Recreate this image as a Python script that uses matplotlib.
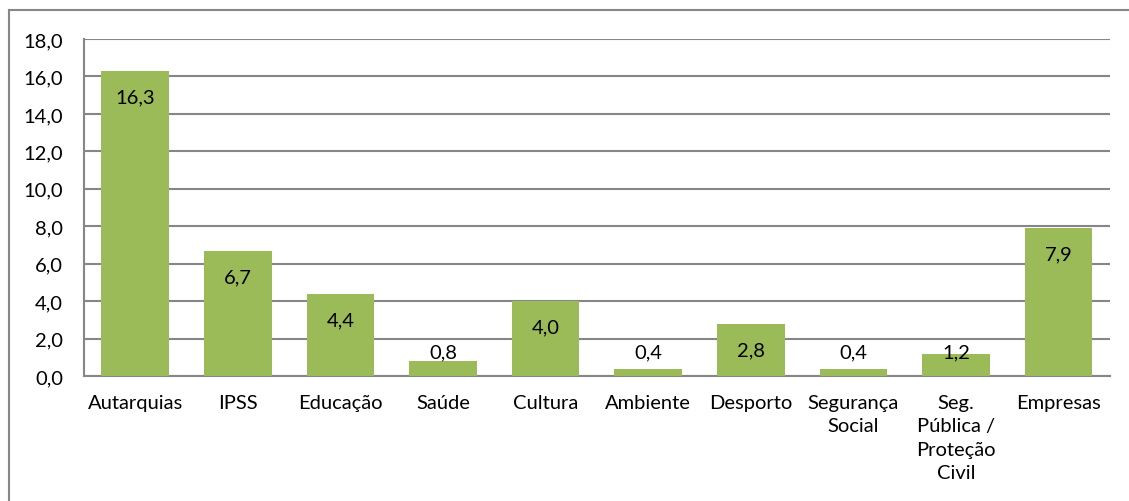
import matplotlib.pyplot as plt
from matplotlib.lines import Line2D

plt.rcParams['font.family'] = ['Lato', 'DejaVu Sans']

categorias = ['Autarquias', 'IPSS', 'Educação', 'Saúde', 'Cultura', 'Ambiente',
              'Desporto', 'Segurança\nSocial', 'Seg.\nPública /\nProteção\nCivil', 'Empresas']
valores = [16.3, 6.7, 4.4, 0.8, 4.0, 0.4, 2.8, 0.4, 1.2, 7.9]
yticks = [0, 2, 4, 6, 8, 10, 12, 14, 16, 18]

fig = plt.figure(figsize=(11.29, 5.02), dpi=100)
ax = fig.add_axes([0.0744, 0.249, 0.9086, 0.6713])

x = range(len(categorias))
ax.bar(x, valores, width=0.66, color='#9BBB59', zorder=3)

# rótulos de dados
for i, v in enumerate(valores):
    ax.text(i, max(v - 1.4, 1.3), f'{v:.1f}'.replace('.', ','), ha='center', va='center',
            fontsize=14.5, color='black', zorder=4)

ax.set_xlim(-0.5, len(categorias) - 0.5)
ax.set_ylim(0, 18)
ax.set_yticks(yticks)
ax.set_yticklabels([f'{t:.1f}'.replace('.', ',') for t in yticks], fontsize=14.5)
ax.set_xticks(list(x))
ax.set_xticklabels(categorias, fontsize=14.5, va='top', linespacing=1.45)
ax.tick_params(length=0)
ax.tick_params(axis='x', pad=13)
ax.tick_params(axis='y', pad=15)

ax.grid(axis='y', color='#868686', linewidth=1.5, zorder=0)
for s in ['top', 'right']:
    ax.spines[s].set_visible(False)
for s in ['left', 'bottom']:
    ax.spines[s].set_color('#868686')
    ax.spines[s].set_linewidth(1.5)

# moldura exterior
fig.add_artist(Line2D([9 / 1129, 9 / 1129], [0, 1 - 11 / 502], color='#868686', linewidth=1.5))
fig.add_artist(Line2D([9 / 1129, 1], [1 - 11 / 502, 1 - 11 / 502], color='#868686', linewidth=1.5))

fig.savefig('out.png', dpi=100)
